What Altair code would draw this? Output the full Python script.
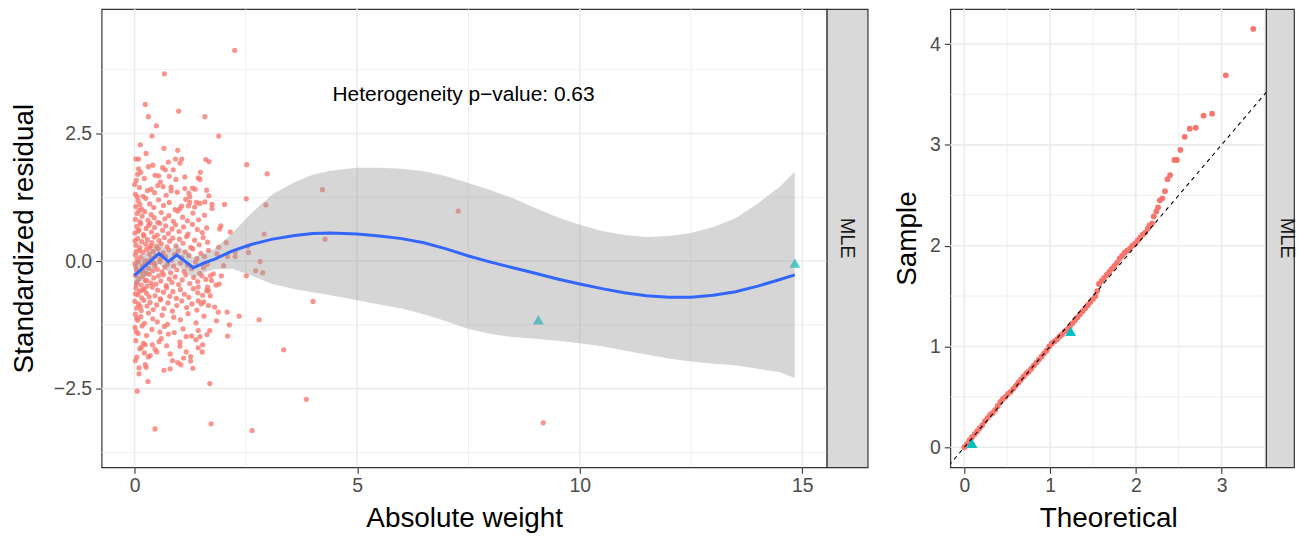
import altair as alt
import pandas as pd

RED = "#F8766D"
CYAN = "#00BFC4"
FONT = "Liberation Sans"

# ---------------- residuals vs absolute weight ----------------
# bulk of the cloud, listed band by band (weights, residuals)
cloud_bands = [
    ([0.02, 0.06, 0.11, 0.14, 0.19, 0.23, 0.27, 0.33, 0.38, 0.42, 0.47, 0.53, 0.58, 0.64, 0.70,
      0.77, 0.83, 0.90, 0.98, 1.06, 1.14, 1.22, 1.31, 1.40, 1.49, 1.57, 1.66, 0.04, 0.30, 0.61],
     [0.12, 0.03, 0.21, 0.08, 0.17, 0.01, 0.23, 0.14, 0.06, 0.19, 0.10, 0.24, 0.04, 0.16, 0.09,
      0.22, 0.02, 0.13, 0.20, 0.07, 0.18, 0.11, 0.24, 0.05, 0.15, 0.09, 0.21, 0.19, 0.00, 0.12]),
    ([0.01, 0.05, 0.09, 0.13, 0.17, 0.22, 0.26, 0.31, 0.36, 0.41, 0.46, 0.51, 0.57, 0.62, 0.68,
      0.74, 0.81, 0.88, 0.95, 1.03, 1.11, 1.19, 1.28, 1.37, 1.46, 1.55, 1.63, 0.03, 0.20, 0.44],
     [-0.05, -0.18, -0.02, -0.22, -0.11, -0.07, -0.24, -0.14, -0.03, -0.19, -0.09, -0.16, -0.01,
      -0.21, -0.12, -0.06, -0.23, -0.10, -0.17, -0.04, -0.20, -0.08, -0.15, -0.02, -0.24, -0.13,
      -0.06, -0.12, -0.20, -0.04]),
    ([0.03, 0.07, 0.12, 0.16, 0.21, 0.25, 0.29, 0.34, 0.39, 0.44, 0.49, 0.55, 0.60, 0.67, 0.73,
      0.79, 0.86, 0.93, 1.01, 1.09, 1.17, 1.26, 1.35, 1.45, 1.54, 1.64, 0.01, 0.37],
     [0.31, 0.44, 0.27, 0.38, 0.49, 0.33, 0.42, 0.26, 0.36, 0.47, 0.29, 0.40, 0.34, 0.46, 0.28,
      0.39, 0.45, 0.30, 0.43, 0.35, 0.48, 0.27, 0.41, 0.32, 0.46, 0.37, 0.40, 0.30]),
    ([0.02, 0.06, 0.10, 0.15, 0.19, 0.24, 0.28, 0.33, 0.37, 0.43, 0.48, 0.54, 0.59, 0.65, 0.71,
      0.78, 0.84, 0.91, 0.99, 1.07, 1.15, 1.24, 1.33, 1.42, 1.51, 1.60, 0.04, 0.27],
     [-0.28, -0.41, -0.34, -0.47, -0.30, -0.38, -0.49, -0.26, -0.43, -0.33, -0.45, -0.29, -0.39,
      -0.27, -0.48, -0.35, -0.42, -0.31, -0.46, -0.37, -0.27, -0.44, -0.32, -0.40, -0.29, -0.36,
      -0.45, -0.38]),
    ([0.01, 0.05, 0.10, 0.14, 0.20, 0.26, 0.32, 0.38, 0.45, 0.51, 0.57, 0.63, 0.70, 0.76, 0.84,
      0.92, 1.00, 1.10, 1.20, 1.30, 1.41, 1.52, 1.62, 0.08, 0.35],
     [0.55, 0.68, 0.61, 0.73, 0.52, 0.64, 0.70, 0.57, 0.66, 0.51, 0.74, 0.60, 0.69, 0.54, 0.63,
      0.71, 0.58, 0.67, 0.53, 0.72, 0.62, 0.56, 0.65, 0.59, 0.74]),
    ([0.03, 0.07, 0.11, 0.16, 0.22, 0.27, 0.33, 0.40, 0.46, 0.52, 0.58, 0.65, 0.72, 0.79, 0.86,
      0.94, 1.03, 1.12, 1.22, 1.32, 1.42, 1.53, 1.66, 0.02, 0.18],
     [-0.53, -0.66, -0.59, -0.72, -0.55, -0.63, -0.70, -0.51, -0.68, -0.57, -0.74, -0.61, -0.52,
      -0.69, -0.60, -0.73, -0.56, -0.65, -0.71, -0.54, -0.62, -0.67, -0.58, -0.64, -0.57]),
    ([0.02, 0.06, 0.12, 0.17, 0.23, 0.30, 0.37, 0.44, 0.52, 0.60, 0.68, 0.77, 0.87, 0.97, 1.08,
      1.19, 1.31, 1.44, 1.57, 0.10],
     [0.82, 0.93, 0.77, 0.88, 0.97, 0.80, 0.91, 0.85, 0.76, 0.95, 0.83, 0.89, 0.78, 0.98, 0.86,
      0.79, 0.94, 0.81, 0.90, 0.99]),
    ([0.01, 0.05, 0.09, 0.15, 0.21, 0.28, 0.35, 0.42, 0.50, 0.58, 0.66, 0.75, 0.85, 0.95, 1.06,
      1.17, 1.29, 1.40, 1.55, 0.13],
     [-0.79, -0.92, -0.84, -0.97, -0.77, -0.88, -0.81, -0.95, -0.86, -0.76, -0.93, -0.82, -0.98,
      -0.87, -0.78, -0.91, -0.84, -0.96, -0.80, -0.89]),
    ([0.03, 0.08, 0.16, 0.25, 0.34, 0.43, 0.54, 0.65, 0.78, 0.91, 1.15, 1.35, 1.58, 0.12],
     [1.07, 1.18, 1.02, 1.23, 1.12, 1.05, 1.20, 1.09, 1.15, 1.01, 1.21, 1.06, 1.16, 1.11]),
    ([0.02, 0.07, 0.14, 0.22, 0.31, 0.41, 0.51, 0.62, 0.74, 0.88, 1.03, 1.20, 1.38, 1.56, 0.05],
     [-1.04, -1.16, -1.09, -1.22, -1.02, -1.13, -1.19, -1.06, -1.24, -1.10, -1.15, -1.03, -1.21,
      -1.08, -1.12]),
    ([0.02, 0.11, 0.19, 0.29, 0.52, 0.71, 0.96, 1.36, 0.06],
     [1.31, 1.44, 1.27, 1.38, 1.48, 1.29, 1.35, 1.41, 1.26]),
    ([0.01, 0.08, 0.17, 0.27, 0.39, 0.67, 0.89, 1.09, 1.28, 0.04],
     [-1.30, -1.42, -1.27, -1.46, -1.34, -1.28, -1.40, -1.33, -1.47, -1.38]),
    ([0.04, 0.14, 0.22, 0.41, 0.58, 0.78, 1.02],
     [1.58, 1.74, 1.62, 1.88, 1.55, 1.66, 1.92]),
    ([0.03, 0.12, 0.20, 0.35, 0.55, 0.72, 1.10, 1.38],
     [-1.56, -1.72, -1.61, -1.85, -1.58, -1.66, -1.90, -1.54]),
]

# outer points of the cloud and isolated observations (weight, residual)
edge_points = [
    (2.25, 4.13), (0.67, 3.67), (0.24, 3.07), (0.99, 2.94), (0.31, 2.83), (1.58, 2.83),
    (0.49, 2.65), (0.39, 2.45), (1.89, 2.45), (0.13, 2.28), (0.66, 2.21), (0.97, 2.17),
    (0.26, 2.11), (0.03, 2.00), (0.09, 2.00), (0.92, 2.00), (1.06, 2.00), (1.60, 1.99),
    (1.67, 1.95), (0.76, 1.94), (0.09, 1.81), (0.31, 1.85), (0.63, 1.83), (0.69, 1.79),
    (0.87, 1.79), (1.48, 1.74), (2.52, 1.89), (2.98, 1.71), (0.07, 1.70), (0.46, 1.68),
    (0.54, 1.67), (1.13, 1.65), (0.93, 1.60), (1.43, 1.63), (1.47, 1.60), (0.00, 1.50),
    (0.64, 1.46), (0.82, 1.45), (0.82, 1.38), (1.13, 1.42), (1.30, 1.43), (1.62, 1.39),
    (0.37, 1.41), (0.45, 1.34), (1.22, 1.33), (1.24, 1.26), (1.67, 1.28), (2.51, 1.22),
    (2.95, 1.10), (2.02, 1.11), (1.74, 1.11), (1.74, 1.03), (1.47, 1.13), (1.39, 1.15),
    (1.21, 1.08), (1.24, 1.15), (1.02, 1.03), (1.06, 1.08), (4.22, 1.40), (7.27, 0.98),
    (4.28, 0.43), (2.91, 0.53), (2.15, 0.57), (1.94, 0.69), (1.91, 0.63), (2.06, 0.36),
    (2.56, 0.17), (2.54, 0.29), (2.26, 0.18), (2.26, 0.09), (2.09, 0.09), (1.89, 0.27),
    (1.85, 0.14), (2.82, -0.01), (2.00, -0.09), (2.72, -0.19), (2.88, -0.23), (2.51, -0.29),
    (1.95, -0.29), (1.90, -0.45), (1.77, -0.25), (1.70, -0.29), (1.64, -0.51), (1.70, -0.68),
    (2.35, -1.08), (2.80, -1.15), (2.08, -1.00), (1.88, -1.00), (1.84, -1.17), (1.80, -0.90),
    (1.66, -0.87), (1.50, -0.84), (1.43, -0.78), (1.62, -0.58), (1.83, -0.47), (1.73, -0.38),
    (1.43, -0.51), (4.01, -0.79), (2.13, -1.25),
    (2.09, -1.47), (3.35, -1.74), (3.86, -2.71), (1.69, -2.40), (0.06, -2.55), (0.30, -2.36),
    (0.46, -3.29), (1.72, -3.19), (2.64, -3.32), (9.18, -3.17), (0.10, -2.21), (0.10, -2.09),
    (0.26, -2.08), (0.24, -2.03), (0.02, -1.95), (0.05, -1.88), (0.31, -1.88), (0.22, -1.80),
    (0.46, -1.73), (0.50, -1.78), (0.40, -1.64), (0.24, -1.64), (0.15, -1.69), (0.66, -2.14),
    (0.80, -2.11), (0.85, -1.95), (0.97, -1.99), (1.04, -2.03), (0.80, -1.82), (1.02, -1.59),
    (1.02, -1.67), (1.16, -1.48), (1.16, -1.78), (1.26, -1.87), (1.26, -1.96), (1.31, -2.10),
    (1.43, -1.70), (1.52, -1.78), (1.53, -1.64), (1.47, -1.48), (1.63, -1.44), (0.60, -1.52),
    (1.43, -1.36), (1.69, -1.36), (0.76, -1.43), (0.57, -1.39),
]

# second group (triangles)
tri_weight = [9.07, 14.83]
tri_resid = [-1.15, -0.04]

# smoothed trend with its confidence band
fit_w = [0, 0.55, 0.76, 0.95, 1.32, 1.58, 1.8, 2.2, 2.6, 3.1, 3.6, 4.0, 4.4, 5.0, 5.5, 6.0,
         6.5, 7.0, 7.5, 8.0, 8.5, 9.0, 9.5, 10.0, 10.5, 11.0, 11.5, 12.0, 12.5, 13.0, 13.5,
         14.0, 14.5, 14.83]
fit_r = [-0.28, 0.15, -0.01, 0.12, -0.13, -0.03, 0.04, 0.20, 0.32, 0.43, 0.50, 0.54, 0.55,
         0.53, 0.49, 0.44, 0.36, 0.24, 0.10, -0.02, -0.13, -0.24, -0.35, -0.45, -0.54, -0.62,
         -0.68, -0.71, -0.71, -0.67, -0.60, -0.49, -0.36, -0.27]
fit_lo = [-0.52, -0.05, -0.21, -0.08, -0.33, -0.22, -0.16, -0.15, -0.28, -0.45, -0.55, -0.61,
          -0.67, -0.77, -0.85, -0.93, -1.04, -1.18, -1.33, -1.43, -1.49, -1.52, -1.56, -1.61,
          -1.67, -1.75, -1.83, -1.91, -1.97, -2.01, -2.04, -2.11, -2.18, -2.29]
fit_hi = [-0.04, 0.35, 0.19, 0.32, 0.07, 0.16, 0.24, 0.55, 0.92, 1.31, 1.55, 1.69, 1.77, 1.83,
          1.83, 1.81, 1.76, 1.66, 1.53, 1.39, 1.23, 1.04, 0.86, 0.71, 0.59, 0.51, 0.47, 0.49,
          0.55, 0.67, 0.84, 1.13, 1.46, 1.75]

note_text = ["Heterogeneity p\u2212value: 0.63"]
note_w = [7.39]
note_r = [3.14]

# ---------------- half-normal QQ plot ----------------
qq_theo = [0.00, 0.03, 0.06, 0.09, 0.12, 0.15, 0.18, 0.21, 0.24, 0.27, 0.30, 0.33, 0.36, 0.39,
           0.42, 0.45, 0.48, 0.51, 0.54, 0.57, 0.60, 0.63, 0.66, 0.69, 0.72, 0.75, 0.78, 0.81,
           0.84, 0.87, 0.90, 0.93, 0.96, 0.99, 1.02, 1.05, 1.08, 1.11, 1.14, 1.17, 1.20, 1.23,
           1.26, 1.29, 1.32, 1.35, 1.38, 1.41, 1.44, 1.47, 1.50, 1.53, 1.55, 1.57, 1.60, 1.63,
           1.66, 1.69, 1.72, 1.75, 1.78, 1.81, 1.84, 1.87, 1.90, 1.93, 1.96, 1.99, 2.02, 2.05,
           2.08,
           2.11, 2.14, 2.16, 2.19, 2.21, 2.24, 2.26, 2.28, 2.31, 2.34, 2.37, 2.40, 2.45, 2.48,
           2.52, 2.57, 2.63, 2.70, 2.79, 2.89, 3.05, 3.37]
qq_sample = [0.00, 0.03, 0.07, 0.10, 0.13, 0.16, 0.19, 0.22, 0.26, 0.29, 0.32, 0.34, 0.37, 0.41,
             0.45, 0.48, 0.50, 0.53, 0.55, 0.58, 0.61, 0.64, 0.67, 0.70, 0.73, 0.75, 0.78, 0.81,
             0.84, 0.87, 0.90, 0.93, 0.96, 1.00, 1.03, 1.05, 1.07, 1.10, 1.12, 1.15, 1.17, 1.20,
             1.23, 1.26, 1.29, 1.32, 1.35, 1.38, 1.41, 1.44, 1.47, 1.50, 1.55, 1.62, 1.65, 1.68,
             1.71, 1.74, 1.77, 1.80, 1.83, 1.87, 1.90, 1.93, 1.95, 1.97, 2.00, 2.02, 2.05, 2.08,
             2.11,
             2.13, 2.17, 2.20, 2.22, 2.29, 2.34, 2.38, 2.45, 2.47, 2.54, 2.66, 2.70, 2.85, 2.85,
             2.95, 3.08, 3.16, 3.17, 3.29, 3.31, 3.69, 4.15]
qq_tri_theo = [0.09, 1.24]
qq_tri_sample = [0.04, 1.15]
ref_line = [-0.3, 3.7]

strip_label = ["MLE"]

# grid breaks
left_major_x, left_minor_x = [0, 5, 10, 15], [2.5, 7.5, 12.5]
left_major_y, left_minor_y = [-2.5, 0, 2.5], [-3.75, -1.25, 1.25, 3.75]
right_major_x, right_minor_x = [0, 1, 2, 3], [0.5, 1.5, 2.5, 3.5]
right_major_y, right_minor_y = [0, 1, 2, 3, 4], [0.5, 1.5, 2.5, 3.5]

# ---------------- tables ----------------
weight = [w for ws, _ in cloud_bands for w in ws] + [p[0] for p in edge_points]
resid = [r for _, rs in cloud_bands for r in rs] + [p[1] for p in edge_points]
pts = pd.DataFrame({"w": weight, "r": resid})
tri = pd.DataFrame({"w": tri_weight, "r": tri_resid})
fit = pd.DataFrame({"w": fit_w, "r": fit_r, "lo": fit_lo, "hi": fit_hi})
note = pd.DataFrame({"w": note_w, "r": note_r, "t": note_text})
qq = pd.DataFrame({"w": qq_theo, "r": qq_sample})
qq_tri = pd.DataFrame({"w": qq_tri_theo, "r": qq_tri_sample})
ref = pd.DataFrame({"w": ref_line, "r": ref_line})

PW, PH = 728, 460
QW = 317
STRIP_W = 41
GAP = 83
BORDER = alt.ViewBackground(stroke="#333333", strokeWidth=1.2)


def x_axis(title, values):
    return alt.Axis(values=values, title=title, format="d", grid=False, domain=False,
                    tickSize=6, tickWidth=1.1, tickColor="#333333",
                    labelColor="#4D4D4D", labelFontSize=19.5, labelPadding=3, labelFont=FONT,
                    titleFontSize=28, titleFontWeight="normal", titleColor="#000000",
                    titleFont=FONT, titleY=60, titleBaseline="alphabetic")


def y_axis(title, values, fmt, title_x):
    return alt.Axis(values=values, title=title, format=fmt, grid=False, domain=False,
                    tickSize=6, tickWidth=1.1, tickColor="#333333",
                    labelColor="#4D4D4D", labelFontSize=19.5, labelPadding=4, labelFont=FONT,
                    titleFontSize=28, titleFontWeight="normal", titleColor="#000000",
                    titleFont=FONT, titleX=title_x, titleY=PH / 2, titleAngle=-90,
                    titleAlign="center", titleBaseline="middle")


def panel(xscale, yscale, xax, yax, layers_fn):
    X = lambda f: alt.X(f, type="quantitative", scale=xscale, axis=xax)
    Y = lambda f: alt.Y(f, type="quantitative", scale=yscale, axis=yax)
    return layers_fn(X, Y)


def grid_layers(X, Y, major_x, minor_x, major_y, minor_y):
    out = []
    for vals, wdt in ((minor_x, 0.8), (major_x, 1.6)):
        out.append(alt.Chart(pd.DataFrame({"w": vals})).mark_rule(
            color="#EBEBEB", strokeWidth=wdt).encode(x=X("w")))
    for vals, wdt in ((minor_y, 0.8), (major_y, 1.6)):
        out.append(alt.Chart(pd.DataFrame({"r": vals})).mark_rule(
            color="#EBEBEB", strokeWidth=wdt).encode(y=Y("r")))
    return out


# ---- left panel ----
lx = alt.Scale(domain=[-0.74, 15.55], nice=False, zero=False)
ly = alt.Scale(domain=[-4.04, 4.94], nice=False, zero=False)


def left_layers(X, Y):
    layers = grid_layers(X, Y, left_major_x, left_minor_x, left_major_y, left_minor_y)
    layers.append(alt.Chart(pts).mark_circle(size=27, color=RED, opacity=0.78)
                  .encode(x=X("w"), y=Y("r")))
    layers.append(alt.Chart(tri).mark_point(shape="triangle-up", filled=True, size=120,
                                            color=CYAN, opacity=0.75)
                  .encode(x=X("w"), y=Y("r")))
    layers.append(alt.Chart(fit).mark_area(color="#999999", opacity=0.4)
                  .encode(x=X("w"), y=Y("lo"), y2="hi"))
    layers.append(alt.Chart(fit).mark_line(color="#3366FF", strokeWidth=3)
                  .encode(x=X("w"), y=Y("r")))
    layers.append(alt.Chart(note).mark_text(fontSize=21, font=FONT, color="#000000",
                                            align="center", baseline="alphabetic")
                  .encode(x=X("w"), y=Y("r"), text="t:N"))
    return alt.layer(*layers).properties(width=PW, height=PH, view=BORDER)


left = panel(lx, ly, x_axis("Absolute weight", left_major_x),
             y_axis("Standardized residual", left_major_y, ".1f", -77), left_layers)

# ---- right panel ----
rx = alt.Scale(domain=[-0.163, 3.52], nice=False, zero=False)
ry = alt.Scale(domain=[-0.198, 4.348], nice=False, zero=False)


def right_layers(X, Y):
    layers = grid_layers(X, Y, right_major_x, right_minor_x, right_major_y, right_minor_y)
    layers.append(alt.Chart(qq).mark_circle(size=34, color=RED, opacity=1)
                  .encode(x=X("w"), y=Y("r")))
    layers.append(alt.Chart(qq_tri).mark_point(shape="triangle-up", filled=True, size=120,
                                               color=CYAN, opacity=1)
                  .encode(x=X("w"), y=Y("r")))
    layers.append(alt.Chart(ref).mark_line(color="#000000", strokeWidth=1.1,
                                           strokeDash=[4, 4], clip=True)
                  .encode(x=X("w"), y=Y("r")))
    return alt.layer(*layers).properties(width=QW, height=PH, view=BORDER)


right = panel(rx, ry, x_axis("Theoretical", right_major_x),
              y_axis("Sample", right_major_y, "d", -43), right_layers)


# ---- facet strips ----
def strip(width):
    return alt.Chart(pd.DataFrame({"s": strip_label})).mark_text(
        angle=90, fontSize=20, font=FONT, color="#1A1A1A", align="center",
        baseline="middle").encode(
        text="s:N", x=alt.value(STRIP_W / 2), y=alt.value(PH / 2)
    ).properties(width=width, height=PH,
                 view=alt.ViewBackground(fill="#D9D9D9", stroke="#333333", strokeWidth=1.2))


# empty cell that holds the room for the second panel's axis
gap = alt.Chart(pd.DataFrame({"s": [""]})).mark_text(baseline="middle").encode(
    text="s:N", x=alt.value(GAP / 2), y=alt.value(PH / 2)
).properties(width=GAP, height=PH,
             view=alt.ViewBackground(fill="transparent", stroke="transparent"))

chart = alt.hconcat(left, strip(STRIP_W), gap, right, strip(28),
                    spacing=0, bounds="flush").properties(
    padding={"left": 10, "top": 6, "right": 0, "bottom": 0}
).configure_view(stroke="#333333", strokeWidth=1.2).configure(font=FONT)

chart.save("out.html", embed_options={"renderer": "svg", "actions": False})
